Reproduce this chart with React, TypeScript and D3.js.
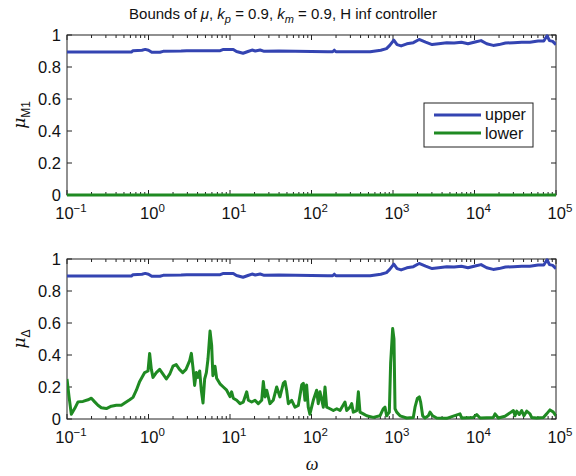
import React from "react";
import * as d3 from "d3";

// ---- data (log10 of omega, and mu values) ----
const upperLogOmega = [
  -1, -0.21, -0.19, -0.08, -0.04, 0.0, 0.04, 0.14, 0.18, 0.4, 0.47, 0.88, 0.92, 1.04, 1.08, 1.16,
  1.22, 1.27, 1.31, 1.37, 1.42, 1.6, 1.8, 2.2, 2.26, 2.28, 2.3, 2.72, 2.85, 2.92, 2.96, 3.01,
  3.05, 3.1, 3.17, 3.25, 3.32, 3.4, 3.48, 3.56, 3.66, 3.75, 3.84, 3.92, 4.02, 4.08, 4.15, 4.23,
  4.3, 4.38, 4.48, 4.58, 4.68, 4.78, 4.85, 4.89, 4.92, 4.96, 5.0,
];
const upperMu = [
  0.893, 0.893, 0.902, 0.905, 0.91, 0.905, 0.892, 0.892, 0.898, 0.9, 0.902, 0.902, 0.91, 0.91,
  0.897, 0.886, 0.897, 0.906, 0.9, 0.906, 0.898, 0.9, 0.898, 0.895, 0.895, 0.905, 0.895, 0.895,
  0.905, 0.915, 0.935, 0.968, 0.94, 0.932, 0.945, 0.952, 0.972, 0.955, 0.94, 0.945, 0.952, 0.95,
  0.955, 0.945, 0.958, 0.965, 0.945, 0.935, 0.94, 0.95, 0.952, 0.955, 0.955, 0.962, 0.962, 0.995,
  0.965, 0.96, 0.94,
];

const lowerM1LogOmega = [-1, 5];
const lowerM1Mu = [0, 0];

const lowerDeltaLogOmega = [
  -1, -0.975, -0.947, -0.906, -0.865, -0.804, -0.742, -0.701, -0.66, -0.62, -0.579, -0.517, -0.456,
  -0.395, -0.333, -0.292, -0.231, -0.19, -0.149, -0.108, -0.047, -0.006, 0.014, 0.035, 0.055, 0.096,
  0.137, 0.178, 0.219, 0.26, 0.3, 0.34, 0.38, 0.42, 0.46, 0.505, 0.526, 0.546, 0.566, 0.587, 0.607,
  0.628, 0.648, 0.669, 0.689, 0.71, 0.73, 0.755, 0.775, 0.79, 0.816, 0.836, 0.877, 0.918, 0.959, 1.0,
  1.02, 1.04, 1.082, 1.123, 1.163, 1.205, 1.225, 1.266, 1.307, 1.347, 1.389, 1.409, 1.43, 1.45, 1.49,
  1.53, 1.573, 1.613, 1.654, 1.675, 1.695, 1.716, 1.757, 1.797, 1.838, 1.88, 1.9, 1.92, 1.94, 1.96,
  1.98, 2.022, 2.063, 2.083, 2.104, 2.145, 2.166, 2.186, 2.227, 2.268, 2.31, 2.35, 2.411, 2.432,
  2.472, 2.493, 2.513, 2.555, 2.575, 2.595, 2.636, 2.677, 2.758, 2.84, 2.88, 2.902, 2.922, 2.955,
  2.971, 2.996, 3.012, 3.025, 3.045, 3.086, 3.168, 3.249, 3.27, 3.298, 3.323, 3.339, 3.364, 3.393,
  3.433, 3.454, 3.487, 3.536, 3.658, 3.822, 3.843, 3.986, 4.027, 4.068, 4.231, 4.252, 4.293, 4.374,
  4.477, 4.497, 4.518, 4.55, 4.579, 4.607, 4.64, 4.681, 4.701, 4.763, 4.845, 4.885, 4.926, 4.967, 5.0,
];
const lowerDeltaMu = [
  0.25, 0.14, 0.03, 0.065, 0.107, 0.11, 0.12, 0.13, 0.107, 0.086, 0.07, 0.065, 0.08, 0.086, 0.086,
  0.1, 0.12, 0.135, 0.18, 0.235, 0.29, 0.3, 0.41, 0.31, 0.26, 0.29, 0.31, 0.28, 0.25, 0.28, 0.33,
  0.34, 0.31, 0.29, 0.31, 0.365, 0.41, 0.32, 0.21, 0.29, 0.26, 0.3, 0.18, 0.1, 0.25, 0.29, 0.375,
  0.55, 0.46, 0.27, 0.33, 0.255, 0.22, 0.2, 0.18, 0.14, 0.17, 0.13, 0.117, 0.096, 0.106, 0.17, 0.117,
  0.106, 0.117, 0.096, 0.117, 0.234, 0.138, 0.18, 0.096, 0.117, 0.2, 0.138, 0.223, 0.234, 0.18,
  0.096, 0.117, 0.074, 0.085, 0.213, 0.223, 0.117, 0.213, 0.074, 0.03, 0.117, 0.18, 0.096, 0.17,
  0.074, 0.2, 0.074, 0.064, 0.053, 0.064, 0.053, 0.106, 0.053, 0.074, 0.096, 0.043, 0.053, 0.17,
  0.043, 0.032, 0.02, 0.01, 0.02, 0.064, 0.074, 0.02, 0.043, 0.35, 0.565, 0.5, 0.064, 0.043, 0.02,
  0.006, 0.01, 0.074, 0.128, 0.138, 0.106, 0.02, 0.006, 0.02, 0.043, 0.02, 0.006, 0.004, 0.032,
  0.006, 0.01, 0.028, 0.006, 0.01, 0.032, 0.006, 0.017, 0.053, 0.02, 0.049, 0.028, 0.053, 0.02,
  0.049, 0.032, 0.01, 0.006, 0.01, 0.032, 0.057, 0.043, 0.02,
];

const xTickExponents = [-1, 0, 1, 2, 3, 4, 5];
const yTicks = [0, 0.2, 0.4, 0.6, 0.8, 1];
const yTickLabels = ["0", "0.2", "0.4", "0.6", "0.8", "1"];
const legendLabels = ["upper", "lower"];

const BLUE = "#3444b2";
const GREEN = "#1f8a22";
const AXIS = "#222";
const FONT = "'Liberation Sans', Arial, Helvetica, sans-serif";

const LEFT = 67;
const RIGHT = 556;

const x = d3.scaleLog().domain([0.1, 1e5]).range([LEFT, RIGHT]);

const minorTicks: number[] = [];
for (let e = -1; e < 5; e++) for (let k = 2; k <= 9; k++) minorTicks.push(k * Math.pow(10, e));

function toPoints(lw: number[], mu: number[]): [number, number][] {
  return lw.map((l, i) => [Math.pow(10, l), mu[i]]);
}

function Panel({ top, bottom, lower, sub, legend, id }: any) {
  const y = d3.scaleLinear().domain([0, 1]).range([bottom, top]);
  const line = d3
    .line<[number, number]>()
    .x((d) => x(d[0]))
    .y((d) => y(d[1]));
  const up = toPoints(upperLogOmega, upperMu);
  const majLen = 5;
  const minLen = 3;
  const cy = (top + bottom) / 2;
  return (
    <g>
      <defs>
        <clipPath id={id}>
          <rect x={LEFT} y={top - 3} width={RIGHT - LEFT} height={bottom - top + 6} />
        </clipPath>
      </defs>
      <rect x={LEFT} y={top} width={RIGHT - LEFT} height={bottom - top} fill="#fff" stroke={AXIS} strokeWidth={1} />
      {xTickExponents.map((e) => {
        const px = x(Math.pow(10, e));
        return (
          <g key={"xm" + e}>
            <line x1={px} x2={px} y1={bottom} y2={bottom - majLen} stroke={AXIS} />
            <line x1={px} x2={px} y1={top} y2={top + majLen} stroke={AXIS} />
            <text x={px + 4} y={bottom + 24} fontSize={16.5} fontFamily={FONT} textAnchor="middle" fill="#111">
              10
              <tspan fontSize={11.5} dy={-7}>
                {e < 0 ? "\u2212" + Math.abs(e) : String(e)}
              </tspan>
            </text>
          </g>
        );
      })}
      {minorTicks.map((v, i) => {
        const px = x(v);
        return (
          <g key={"xn" + i}>
            <line x1={px} x2={px} y1={bottom} y2={bottom - minLen} stroke={AXIS} />
            <line x1={px} x2={px} y1={top} y2={top + minLen} stroke={AXIS} />
          </g>
        );
      })}
      {yTicks.map((t, i) => {
        const py = y(t);
        return (
          <g key={"y" + i}>
            <line x1={LEFT} x2={LEFT + majLen} y1={py} y2={py} stroke={AXIS} />
            <line x1={RIGHT} x2={RIGHT - majLen} y1={py} y2={py} stroke={AXIS} />
            <text x={LEFT - 6} y={py + 6} fontSize={16.5} fontFamily={FONT} textAnchor="end" fill="#111">
              {yTickLabels[i]}
            </text>
          </g>
        );
      })}
      <g clipPath={`url(#${id})`}>
        <path d={line(up) || ""} fill="none" stroke={BLUE} strokeWidth={3} strokeLinejoin="round" />
        <path d={line(lower) || ""} fill="none" stroke={GREEN} strokeWidth={3} strokeLinejoin="round" />
      </g>
      <text
        transform={`translate(25,${cy}) rotate(-90)`}
        textAnchor="middle"
        fontSize={17}
        fontFamily={FONT}
        fill="#111"
      >
        <tspan fontStyle="italic" fontFamily="'DejaVu Serif', serif">μ</tspan>
        <tspan fontSize={12} dy={5}>{sub}</tspan>
      </text>
      {legend && (
        <g>
          <rect x={424} y={103} width={109} height={44} fill="#fff" stroke={AXIS} strokeWidth={1} />
          <line x1={434} x2={481} y1={115} y2={115} stroke={BLUE} strokeWidth={3} />
          <line x1={434} x2={481} y1={133} y2={133} stroke={GREEN} strokeWidth={3} />
          <text x={485} y={120} fontSize={16} fontFamily={FONT} fill="#111">{legendLabels[0]}</text>
          <text x={485} y={139} fontSize={16} fontFamily={FONT} fill="#111">{legendLabels[1]}</text>
        </g>
      )}
    </g>
  );
}

export default function App() {
  return (
    <svg
      width={576}
      height={476}
      style={{ position: "absolute", left: 0, top: 0, background: "#fff" }}
    >
      <rect width={576} height={476} fill="#fff" />
      <text x={283} y={19} textAnchor="middle" fontSize={15} fontFamily={FONT} fill="#111">
        Bounds of <tspan fontStyle="italic">μ</tspan>, <tspan fontStyle="italic">k</tspan>
        <tspan fontSize={11} dy={4} fontStyle="italic">p</tspan>
        <tspan dy={-4}> = 0.9, </tspan>
        <tspan fontStyle="italic">k</tspan>
        <tspan fontSize={11} dy={4} fontStyle="italic">m</tspan>
        <tspan dy={-4}> = 0.9, H inf controller</tspan>
      </text>
      <Panel
        id="c1"
        top={35}
        bottom={195}
        lower={toPoints(lowerM1LogOmega, lowerM1Mu)}
        sub="M1"
        legend
      />
      <Panel
        id="c2"
        top={259}
        bottom={419}
        lower={toPoints(lowerDeltaLogOmega, lowerDeltaMu)}
        sub="Δ"
      />
      <text x={312} y={470} textAnchor="middle" fontSize={18} fontStyle="italic" fontFamily="'Liberation Serif', 'Times New Roman', serif" fill="#111">
        ω
      </text>
    </svg>
  );
}
